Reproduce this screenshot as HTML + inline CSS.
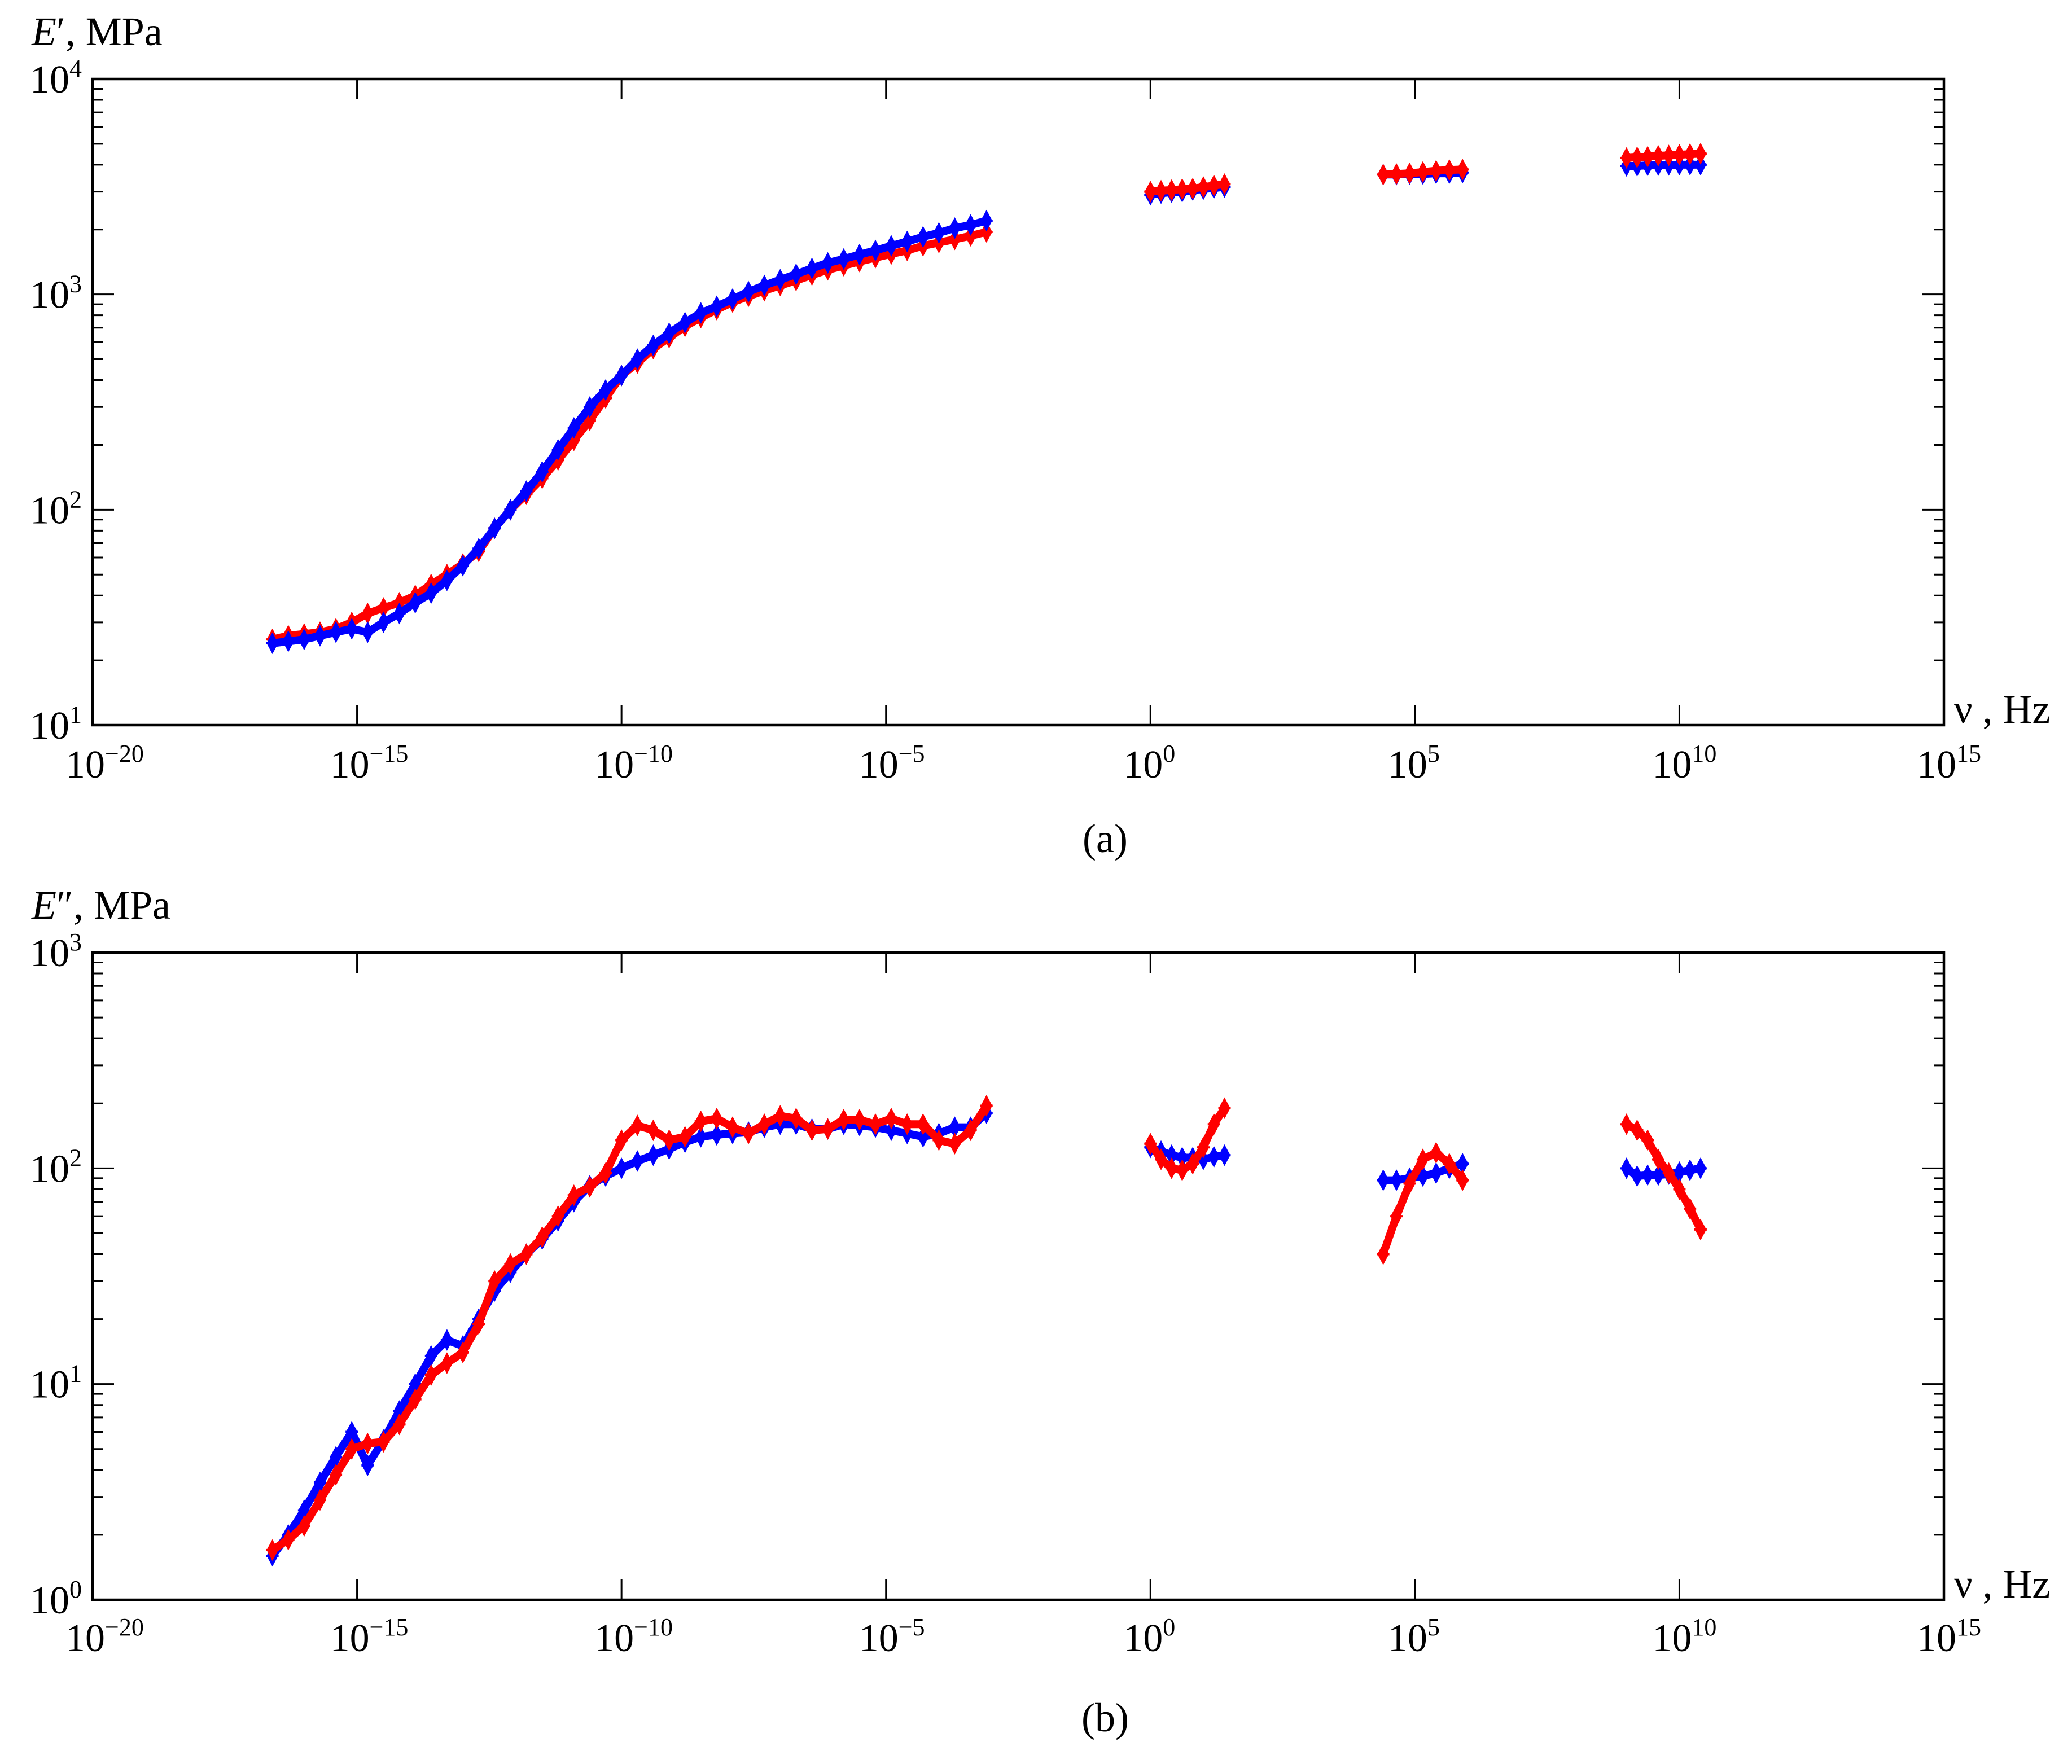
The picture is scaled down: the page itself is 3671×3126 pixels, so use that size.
<!DOCTYPE html>
<html><head><meta charset="utf-8">
<style>
html,body{margin:0;padding:0;background:#fff;}
svg{display:block;}
text{font-family:"Liberation Serif",serif;fill:#000;}
</style></head>
<body>
<svg id="chart" xmlns="http://www.w3.org/2000/svg" width="3671" height="3126" viewBox="0 0 3671 3126">
<rect x="0" y="0" width="3671" height="3126" fill="#fff"/>
</svg>
<script>
// ---- data (log10 of frequency in Hz; moduli in MPa) ----
const mainFreqExp = [-16.6,-16.3,-16.0,-15.7,-15.4,-15.1,-14.8,-14.5,-14.2,-13.9,-13.6,-13.3,-13.0,-12.7,-12.4,-12.1,-11.8,-11.5,-11.2,-10.9,-10.6,-10.3,-10.0,-9.7,-9.4,-9.1,-8.8,-8.5,-8.2,-7.9,-7.6,-7.3,-7.0,-6.7,-6.4,-6.1,-5.8,-5.5,-5.2,-4.9,-4.6,-4.3,-4.0,-3.7,-3.4,-3.1];
const storageBlueMain = [24,24.5,25,26,27,28,27,30,33,37,41,47,55,66,82,100,122,150,190,240,300,360,420,500,580,660,740,820,880,950,1030,1100,1170,1240,1320,1400,1460,1530,1600,1680,1760,1850,1930,2030,2100,2200];
const storageRedMain = [25,26,26.5,27,28,30,33,35,37,40,45,50,56,64,82,100,118,140,170,210,260,330,420,480,560,630,710,780,850,920,980,1040,1100,1160,1230,1300,1360,1420,1480,1540,1600,1680,1740,1800,1870,1950];
const lossBlueMain = [1.6,2.0,2.6,3.5,4.6,6.0,4.2,5.5,7.5,10,13.5,16,15,20,27,33,40,47,57,70,83,92,100,108,115,123,132,140,143,145,147,155,160,160,152,152,160,158,155,150,145,140,145,155,155,180];
const lossRedMain = [1.7,1.9,2.2,2.9,3.8,5.0,5.3,5.4,6.5,8.5,11,12.5,14,19,30,36,40,48,60,75,82,95,135,158,150,135,140,165,170,155,145,160,175,170,150,152,168,168,160,170,160,160,135,130,150,195];

const c1FreqExp = [0,0.2,0.4,0.6,0.8,1.0,1.2,1.4];
const c2FreqExp = [4.4,4.65,4.9,5.15,5.4,5.65,5.9];
const c3FreqExp = [9.0,9.2,9.4,9.6,9.8,10.0,10.2,10.4];

const storageBlueC1 = [2900,2950,2980,3000,3050,3080,3120,3150];
const storageRedC1 = [3000,3030,3050,3080,3100,3150,3200,3250];
const storageBlueC2 = [3600,3600,3620,3620,3650,3650,3680];
const storageRedC2 = [3600,3620,3650,3700,3750,3780,3800];
const storageBlueC3 = [3950,3950,3970,3980,3990,4000,4000,4000];
const storageRedC3 = [4300,4330,4360,4400,4420,4450,4480,4500];

const lossBlueC1 = [125,120,115,112,112,110,113,115];
const lossRedC1 = [130,110,100,98,105,125,160,190];
const lossBlueC2 = [88,88,90,92,95,100,105];
const lossRedC2 = [40,60,85,110,118,105,88];
const lossBlueC3 = [100,92,93,93,94,96,98,100];
const lossRedC3 = [160,150,135,110,95,80,65,52];

const xTickExps = [-20,-15,-10,-5,0,5,10,15];
const xTickLabels = ["−20","−15","−10","−5","0","5","10","15"];
const yTickExpsA = [1,2,3,4];
const yTickExpsB = [0,1,2,3];

// ---- layout ----
const NS = "http://www.w3.org/2000/svg";
const svg = document.getElementById("chart");
const PL = 164, PR = 3444;
const xMin = -20, xMax = 15;
function xScale(e){ return PL + (e - xMin) / (xMax - xMin) * (PR - PL); }
function makeY(top, bottom, lo, hi){ return v => bottom - (Math.log10(v) - lo) / (hi - lo) * (bottom - top); }

function el(tag, attrs, parent){
  const e = document.createElementNS(NS, tag);
  for (const k in attrs) e.setAttribute(k, attrs[k]);
  (parent || svg).appendChild(e);
  return e;
}

function marker(g, x, y, color){
  const p = el("path", {d:`M${x} ${y-15}L${x+8} ${y}L${x} ${y+15}L${x-8} ${y}Z M${x-11} ${y}H${x+11}`, fill:color, stroke:color, "stroke-width":4}, g);
  
  
}

function series(g, xs, ys, yS, color, name){
  const sg = el("g", {}, g);
  
  
  const pts = xs.map((x,i)=>`${xScale(x).toFixed(1)},${yS(ys[i]).toFixed(1)}`).join(" ");
  el("polyline", {points:pts, fill:"none", stroke:color, "stroke-width":14, "stroke-linejoin":"round", "stroke-linecap":"round"}, sg);
  xs.forEach((x,i)=>marker(sg, xScale(x), yS(ys[i]), color));
}

function panel(opts){
  const {top, bottom, lo, hi, yticks, name, yLabelPrime, caption, captionY, xLabelY} = opts;
  const g = el("g", {});
  
  
  const yS = makeY(top, bottom, lo, hi);
  const fr = el("rect", {x:PL, y:top, width:PR-PL, height:bottom-top, fill:"none", stroke:"#000", "stroke-width":4.5}, g);
  
  
  for (let d = lo; d < hi; d++){
    for (let m = 1; m <= 9; m++){
      const v = m * Math.pow(10, d);
      const y = yS(v);
      const len = m === 1 ? 38 : 18;
      if (m === 1 && d === lo) continue;
      el("line", {x1:PL, y1:y, x2:PL+len, y2:y, stroke:"#000", "stroke-width":3}, g);
      el("line", {x1:PR, y1:y, x2:PR-len, y2:y, stroke:"#000", "stroke-width":3}, g);
    }
  }
  yticks.forEach(e=>{
    const t = el("text", {x:145, y:yS(Math.pow(10,e))+24, "font-size":70, "text-anchor":"end"}, g);
    
    
    t.innerHTML = `10<tspan dy="-28" font-size="44">${e}</tspan>`;
  });
  xTickExps.forEach((e,i)=>{
    const x = xScale(e);
    if (i>0 && i<xTickExps.length-1){
      el("line", {x1:x, y1:top, x2:x, y2:top+36, stroke:"#000", "stroke-width":3}, g);
      el("line", {x1:x, y1:bottom, x2:x, y2:bottom-36, stroke:"#000", "stroke-width":3}, g);
    }
    const t = el("text", {x:x-48, y:xLabelY, "font-size":70}, g);
    
    
    t.innerHTML = `10<tspan dy="-28" font-size="44">${xTickLabels[i]}</tspan>`;
  });
  const yl = el("text", {x:56, y:top-60, "font-size":72}, g);
  
  
  yl.innerHTML = `<tspan font-style="italic">E</tspan>${yLabelPrime}, MPa`;
  const xl = el("text", {x:3462, y:bottom-4, "font-size":72}, g);
  
  
  xl.textContent = "ν , Hz";
  const cp = el("text", {x:1958, y:captionY, "font-size":72, "text-anchor":"middle"}, g);
  
  
  cp.textContent = caption;
  return {g, yS};
}

const A = panel({top:140, bottom:1285, lo:1, hi:4, yticks:yTickExpsA, name:"panel-a-storage-modulus", yLabelPrime:"′", caption:"(a)", captionY:1510, xLabelY:1378});
series(A.g, mainFreqExp, storageRedMain, A.yS, "#ff0000", "red-series-main");
series(A.g, mainFreqExp, storageBlueMain, A.yS, "#0000ff", "blue-series-main");
series(A.g, c1FreqExp, storageBlueC1, A.yS, "#0000ff", "blue-series-cluster-1");
series(A.g, c1FreqExp, storageRedC1, A.yS, "#ff0000", "red-series-cluster-1");
series(A.g, c2FreqExp, storageBlueC2, A.yS, "#0000ff", "blue-series-cluster-2");
series(A.g, c2FreqExp, storageRedC2, A.yS, "#ff0000", "red-series-cluster-2");
series(A.g, c3FreqExp, storageBlueC3, A.yS, "#0000ff", "blue-series-cluster-3");
series(A.g, c3FreqExp, storageRedC3, A.yS, "#ff0000", "red-series-cluster-3");

const B = panel({top:1688, bottom:2835, lo:0, hi:3, yticks:yTickExpsB, name:"panel-b-loss-modulus", yLabelPrime:"″", caption:"(b)", captionY:3068, xLabelY:2926});
series(B.g, mainFreqExp, lossBlueMain, B.yS, "#0000ff", "blue-series-main");
series(B.g, mainFreqExp, lossRedMain, B.yS, "#ff0000", "red-series-main");
series(B.g, c1FreqExp, lossBlueC1, B.yS, "#0000ff", "blue-series-cluster-1");
series(B.g, c1FreqExp, lossRedC1, B.yS, "#ff0000", "red-series-cluster-1");
series(B.g, c2FreqExp, lossBlueC2, B.yS, "#0000ff", "blue-series-cluster-2");
series(B.g, c2FreqExp, lossRedC2, B.yS, "#ff0000", "red-series-cluster-2");
series(B.g, c3FreqExp, lossBlueC3, B.yS, "#0000ff", "blue-series-cluster-3");
series(B.g, c3FreqExp, lossRedC3, B.yS, "#ff0000", "red-series-cluster-3");
</script>
</body></html>
